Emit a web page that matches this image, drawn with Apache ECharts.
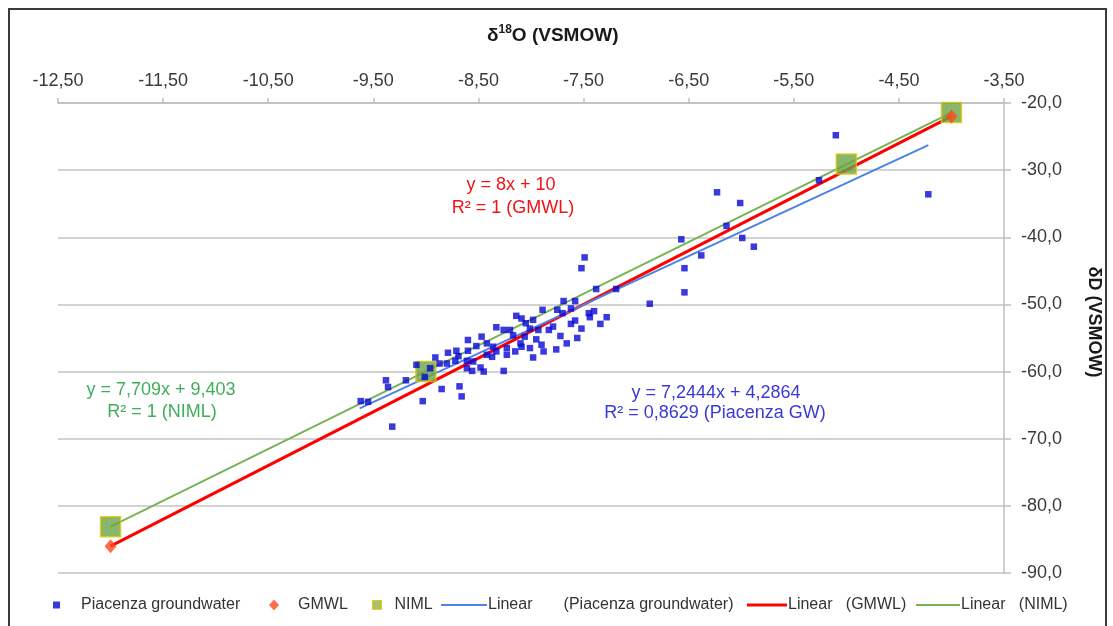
<!DOCTYPE html>
<html>
<head>
<meta charset="utf-8">
<script src="https://cdn.jsdelivr.net/npm/echarts@6/dist/echarts.min.js"></script>
<style>
html,body{margin:0;padding:0;background:#ffffff;}
#chart{width:1113px;height:626px;}
</style>
</head>
<body>
<div id="chart"></div>
<script>
// ---------- data ----------
const xTickValues = [-12.5, -11.5, -10.5, -9.5, -8.5, -7.5, -6.5, -5.5, -4.5, -3.5];
const xTickLabels = ['-12,50', '-11,50', '-10,50', '-9,50', '-8,50', '-7,50', '-6,50', '-5,50', '-4,50', '-3,50'];
const yTickValues = [-90, -80, -70, -60, -50, -40, -30, -20];
const yTickLabels = ['-90,0', '-80,0', '-70,0', '-60,0', '-50,0', '-40,0', '-30,0', '-20,0'];

// Piacenza groundwater samples: d18O and dD (VSMOW)
const piacenzaD18O = [
  -5.10, -4.22, -5.26, -6.23, -6.01, -6.14, -6.57, -5.99, -5.88, -6.38,
  -6.54, -6.54, -6.87, -7.19, -7.28, -7.49, -7.52, -7.38, -7.69, -7.58,
  -7.89, -7.75, -8.14, -8.09, -7.45, -7.44, -7.58, -7.62, -7.34, -7.79,
  -7.83, -7.93, -8.01, -8.33, -8.26, -8.20, -8.17, -8.06, -7.95, -7.72,
  -7.56, -8.60, -8.42, -8.36, -8.33, -8.23, -8.23, -8.10, -8.09, -8.01,
  -7.98, -7.88, -7.76, -8.42, -8.37, -8.71, -8.79, -8.60, -8.69, -8.61,
  -8.55, -8.91, -8.87, -8.80, -8.72, -8.61, -8.56, -8.48, -8.45, -8.26,
  -9.09, -8.96, -9.01, -9.19, -9.38, -9.36, -8.85, -8.68, -8.66, -9.03,
  -9.62, -9.55, -9.32, -8.05, -7.98, -7.70, -7.62, -8.47, -8.52, -7.90,
  -7.66, -8.15, -7.52, -7.40
];
const piacenzaD2H = [
  -24.8, -33.6, -31.5, -33.3, -34.9, -38.3, -40.3, -40.1, -41.4, -42.7,
  -44.6, -48.2, -49.9, -47.7, -51.9, -43.0, -44.6, -47.7, -49.5, -49.5,
  -50.8, -50.8, -51.7, -52.1, -51.3, -51.9, -52.4, -52.9, -52.9, -53.3,
  -53.8, -53.8, -53.6, -53.4, -53.8, -53.8, -54.6, -54.8, -55.2, -54.7,
  -55.0, -55.3, -55.8, -56.3, -57.0, -56.5, -57.5, -55.8, -56.3, -56.5,
  -57.9, -57.0, -56.7, -57.5, -57.8, -56.9, -57.2, -56.9, -57.7, -58.4,
  -58.5, -57.9, -58.8, -58.8, -58.4, -59.5, -59.9, -59.4, -60.0, -59.9,
  -59.0, -59.5, -60.8, -61.3, -61.3, -62.3, -62.6, -62.2, -63.7, -64.4,
  -64.4, -64.5, -68.2, -52.8, -52.3, -51.3, -50.6, -54.8, -56.2, -56.0,
  -55.8, -57.0, -53.6, -51.0
];

// GMWL reference points
const gmwlD18O = [-12, -4];
const gmwlD2H = [-86, -22];

// NIML reference points
const nimlD18O = [-12, -9, -5, -4];
const nimlD2H = [-83.1, -60.0, -29.1, -21.4];

// trend lines (from the printed equations) and their x extents
const piacenzaFit = { slope: 7.2444, intercept: 4.2864, from: -9.63, to: -4.22 };
const gmwlFit = { slope: 8, intercept: 10, from: -12, to: -4 };
const nimlFit = { slope: 7.709, intercept: 9.403, from: -12, to: -4 };

// ---------- helpers ----------
const FONT = '"Liberation Sans", Arial, sans-serif';
const pairs = (xs, ys) => xs.map((x, i) => [x, ys[i]]);
const fitLine = f => [[f.from, f.slope * f.from + f.intercept], [f.to, f.slope * f.to + f.intercept]];
const labelFor = (values, labels) => v => {
  const i = values.findIndex(t => Math.abs(t - v) < 1e-6);
  return i >= 0 ? labels[i] : '';
};

const chart = echarts.init(document.getElementById('chart'), null, { renderer: 'canvas' });

const LEGEND_TOP = 592;
const legendItem = (left, h, extra) => Object.assign({
  orient: 'horizontal',
  left: left,
  top: LEGEND_TOP,
  itemHeight: h,
  selectedMode: false,
  textStyle: { fontFamily: FONT, fontSize: 16, color: '#333333' }
}, extra);
const txt = pad => ({ fontFamily: FONT, fontSize: 16, color: '#333333', padding: [0, 0, 0, pad] });

const option = {
  animation: false,
  backgroundColor: '#ffffff',
  title: {
    text: '{a|δ}{b|18}{a|O (VSMOW)}',
    left: 482,
    top: 19,
    textStyle: {
      rich: {
        a: { fontFamily: FONT, fontSize: 19, fontWeight: 'bold', color: '#1a1a1a', lineHeight: 24 },
        b: { fontFamily: FONT, fontSize: 12, fontWeight: 'bold', color: '#1a1a1a', verticalAlign: 'top', lineHeight: 14 }
      }
    }
  },
  grid: { left: 58, right: 109, top: 103, bottom: 53, containLabel: false },
  xAxis: {
    type: 'value',
    position: 'top',
    min: -12.5,
    max: -3.5,
    interval: 1,
    axisLine: { show: true, onZero: false, lineStyle: { color: '#bfbfbf', width: 1.5 } },
    axisTick: { show: true, length: 5, inside: false, lineStyle: { color: '#bfbfbf', width: 1.5 } },
    splitLine: { show: false },
    axisLabel: {
      formatter: labelFor(xTickValues, xTickLabels),
      fontFamily: FONT, fontSize: 18, color: '#3a3a3a', margin: 13
    }
  },
  yAxis: {
    type: 'value',
    position: 'right',
    min: -90,
    max: -20,
    interval: 10,
    axisLine: { show: true, onZero: false, lineStyle: { color: '#bfbfbf', width: 1.5 } },
    axisTick: { show: true, length: 7, inside: false, lineStyle: { color: '#bfbfbf', width: 1.5 } },
    splitLine: { show: true, lineStyle: { color: '#c4c4c4', width: 1.5 } },
    axisLabel: {
      formatter: labelFor(yTickValues, yTickLabels),
      fontFamily: FONT, fontSize: 18, color: '#3a3a3a', margin: 17
    }
  },
  legend: [
    legendItem(48, 7, {
      data: [{ name: 'Piacenza groundwater', icon: 'rect' }],
      itemWidth: 7, textStyle: txt(16)
    }),
    legendItem(264, 11, {
      data: [{ name: 'GMWL', icon: 'diamond' }],
      itemWidth: 10, textStyle: txt(14)
    }),
    legendItem(367, 9, {
      data: [{ name: 'NIML', icon: 'rect', itemStyle: { color: '#93b03c', borderColor: '#dcc400', borderWidth: 1 } }],
      itemWidth: 9, textStyle: txt(8)
    }),
    legendItem(436, 2, {
      data: [{ name: 'Linear (Piacenza groundwater)', icon: 'rect' }],
      itemWidth: 46, textStyle: txt(-4),
      formatter: () => 'Linear       (Piacenza groundwater)'
    }),
    legendItem(742, 3, {
      data: [{ name: 'Linear (GMWL)', icon: 'rect' }],
      itemWidth: 40, textStyle: txt(-4),
      formatter: () => 'Linear   (GMWL)'
    }),
    legendItem(911, 2, {
      data: [{ name: 'Linear (NIML)', icon: 'rect' }],
      itemWidth: 44, textStyle: txt(-4),
      formatter: () => 'Linear   (NIML)'
    })
  ],
  series: [
    {
      name: 'Linear (NIML)', type: 'line', data: fitLine(nimlFit),
      symbol: 'none', lineStyle: { color: '#76b453', width: 2 }, itemStyle: { color: '#76b453' }, z: 2
    },
    {
      name: 'Linear (GMWL)', type: 'line', data: fitLine(gmwlFit),
      symbol: 'none', lineStyle: { color: '#ff0000', width: 3 }, itemStyle: { color: '#ff0000' }, z: 2
    },
    {
      name: 'Linear (Piacenza groundwater)', type: 'line', data: fitLine(piacenzaFit),
      symbol: 'none', lineStyle: { color: '#4a82e6', width: 2 }, itemStyle: { color: '#4a82e6' }, z: 2
    },
    {
      name: 'NIML', type: 'scatter', data: pairs(nimlD18O, nimlD2H),
      symbol: 'rect', symbolSize: 20,
      itemStyle: { color: '#6aa446', borderColor: '#e2c400', borderWidth: 1.5 }, z: 3
    },
    {
      name: 'Piacenza groundwater', type: 'scatter', data: pairs(piacenzaD18O, piacenzaD2H),
      symbol: 'rect', symbolSize: 6.5, itemStyle: { color: '#0808d4' }, z: 4
    },
    {
      name: 'GMWL', type: 'scatter', data: pairs(gmwlD18O, gmwlD2H),
      symbol: 'diamond', symbolSize: [12, 14], itemStyle: { color: '#ff4a1c' }, z: 5
    }
  ],
  graphic: [
    {
      type: 'rect', silent: true, z: 100,
      shape: { x: 9, y: 9, width: 1097, height: 640 },
      style: { fill: 'none', stroke: '#3a3a3a', lineWidth: 2 }
    },
    {
      type: 'text', x: 1094, y: 322, rotation: -Math.PI / 2, z: 100,
      style: { text: 'δD (VSMOW)', font: 'bold 18px ' + FONT, fill: '#1a1a1a', textAlign: 'center', textVerticalAlign: 'middle' }
    },
    {
      type: 'text', x: 511, y: 185, z: 100,
      style: { text: 'y = 8x + 10', font: '18px ' + FONT, fill: '#f01414', textAlign: 'center', textVerticalAlign: 'middle' }
    },
    {
      type: 'text', x: 513, y: 208, z: 100,
      style: { text: 'R² = 1 (GMWL)', font: '18px ' + FONT, fill: '#f01414', textAlign: 'center', textVerticalAlign: 'middle' }
    },
    {
      type: 'text', x: 161, y: 390, z: 100,
      style: { text: 'y = 7,709x + 9,403', font: '18px ' + FONT, fill: '#3fae5a', textAlign: 'center', textVerticalAlign: 'middle' }
    },
    {
      type: 'text', x: 162, y: 412, z: 100,
      style: { text: 'R² = 1 (NIML)', font: '18px ' + FONT, fill: '#3fae5a', textAlign: 'center', textVerticalAlign: 'middle' }
    },
    {
      type: 'text', x: 716, y: 393, z: 100,
      style: { text: 'y = 7,2444x + 4,2864', font: '18px ' + FONT, fill: '#3a3ad2', textAlign: 'center', textVerticalAlign: 'middle' }
    },
    {
      type: 'text', x: 715, y: 413, z: 100,
      style: { text: 'R² = 0,8629 (Piacenza GW)', font: '18px ' + FONT, fill: '#3a3ad2', textAlign: 'center', textVerticalAlign: 'middle' }
    }
  ]
};

chart.setOption(option);
</script>
</body>
</html>
